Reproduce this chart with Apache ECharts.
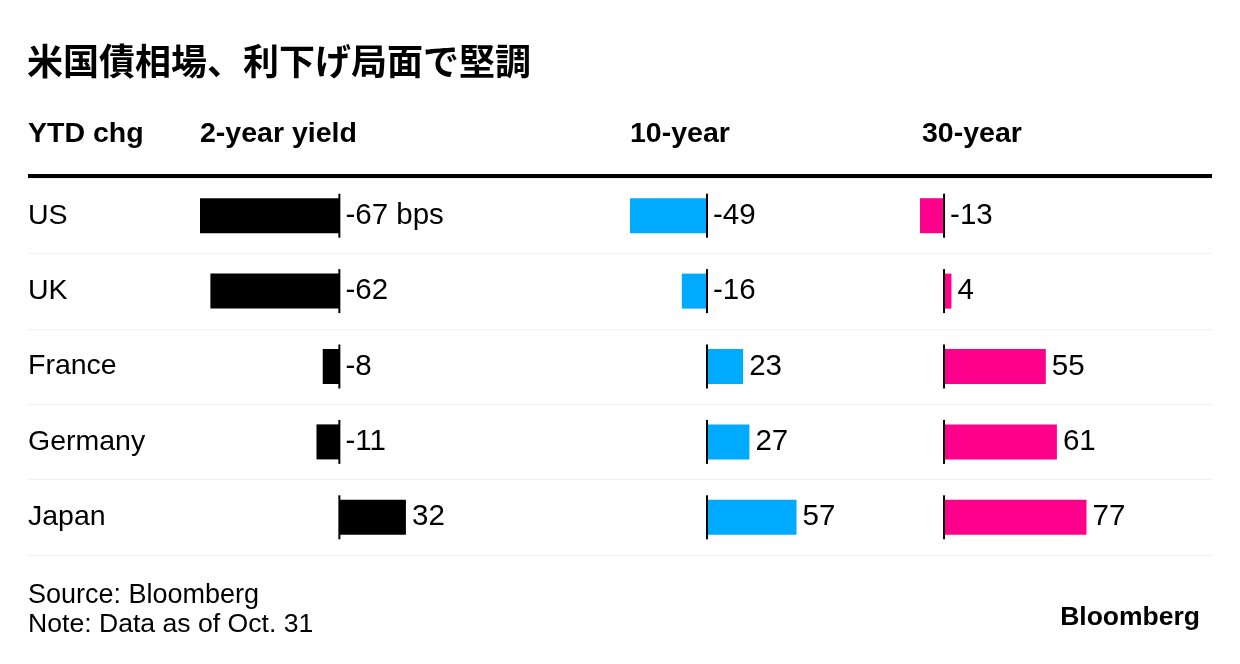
<!DOCTYPE html>
<html>
<head>
<meta charset="utf-8">
<script src="https://cdn.jsdelivr.net/npm/echarts@6/dist/echarts.min.js"></script>
<style>
html,body{margin:0;padding:0;background:#fff;}
#chart{width:1240px;height:664px;}
</style>
</head>
<body>
<div id="chart"></div>
<script>
// ---- data ----
const titleText = '米国債相場、利下げ局面で堅調';
const rowHeader = 'YTD chg';
const countries = ['US', 'UK', 'France', 'Germany', 'Japan'];
const columnTitles = ['2-year yield', '10-year', '30-year'];
const twoYear = [-67, -62, -8, -11, 32];
const tenYear = [-49, -16, 23, 27, 57];
const thirtyYear = [-13, 4, 55, 61, 77];
const unitSuffix = ' bps';
const sourceText = 'Source: Bloomberg';
const noteText = 'Note: Data as of Oct. 31';
const brandText = 'Bloomberg';

// ---- layout / style ----
const FONT = '"Liberation Sans", Arial, sans-serif';
const CJK = '"Noto Sans CJK JP", sans-serif';
const colLeft = [200, 630, 920];
const colScale = [2.08, 1.571, 1.85];
const colColor = ['#000000', '#00aaff', '#ff008c'];
const gridTop = 178, gridHeight = 377;
const columns = [twoYear, tenYear, thirtyYear];

const grids = [{left: 28, top: gridTop, width: 1184, height: gridHeight}];
const xAxes = [{gridIndex: 0, type: 'value', min: 0, max: 1, show: false}];
const yAxes = [{
  gridIndex: 0, type: 'category', data: countries, inverse: true,
  axisLine: {show: false}, axisTick: {show: false},
  axisLabel: {inside: true, margin: 0, color: '#000', fontSize: 28.5, fontFamily: FONT, padding: [0, 0, 7, 0]},
  splitLine: {show: true, lineStyle: {color: '#f0f0f0', width: 1}}
}];
const series = [];

columns.forEach((vals, i) => {
  const gi = i + 1;
  const mn = Math.min(0, ...vals), mx = Math.max(0, ...vals);
  grids.push({left: colLeft[i], top: gridTop, width: (mx - mn) * colScale[i], height: gridHeight});
  xAxes.push({gridIndex: gi, type: 'value', min: mn, max: mx, show: false});
  yAxes.push({gridIndex: gi, type: 'category', data: countries, inverse: true, show: false});
  series.push({
    type: 'bar', xAxisIndex: gi, yAxisIndex: gi, data: vals, barWidth: 35,
    itemStyle: {color: colColor[i]}, silent: true, z: 2
  });
  series.push({
    type: 'scatter', xAxisIndex: gi, yAxisIndex: gi,
    data: countries.map(c => [0, c]),
    symbol: 'rect', symbolSize: [2, 44],
    itemStyle: {color: '#000', opacity: 1}, silent: true, z: 3
  });
  series.push({
    type: 'scatter', xAxisIndex: gi, yAxisIndex: gi,
    data: vals.map((v, k) => [Math.max(v, 0), countries[k], v]),
    symbolSize: 0.1, itemStyle: {color: 'rgba(0,0,0,0)', opacity: 1}, silent: true, z: 4,
    label: {
      show: true, position: 'right', distance: 6,
      color: '#000', fontSize: 29.5, fontFamily: FONT,
      formatter: p => String(p.value[2]) + (i === 0 && p.dataIndex === 0 ? unitSuffix : '')
    }
  });
});

const graphics = [
  {type: 'text', x: 27, y: 61, style: {text: titleText, font: 'bold 36px ' + CJK, fill: '#000', verticalAlign: 'middle'}},
  {type: 'text', x: 28, y: 134, style: {text: rowHeader, font: 'bold 28.5px ' + FONT, fill: '#000', verticalAlign: 'middle'}},
  {type: 'rect', shape: {x: 28, y: 174, width: 1184, height: 4}, style: {fill: '#000'}, z: 10},
  {type: 'text', x: 28, y: 596, style: {text: sourceText, font: '27px ' + FONT, fill: '#000', verticalAlign: 'middle'}},
  {type: 'text', x: 28, y: 625, style: {text: noteText, font: '26.6px ' + FONT, fill: '#000', verticalAlign: 'middle'}},
  {type: 'text', x: 1200, y: 618, style: {text: brandText, font: 'bold 26.5px ' + FONT, fill: '#000', align: 'right', verticalAlign: 'middle'}}
];
columnTitles.forEach((t, i) => {
  graphics.push({type: 'text', x: colLeft[i] + (i === 2 ? 2 : 0), y: 134, style: {text: t, font: 'bold 28.5px ' + FONT, fill: '#000', verticalAlign: 'middle'}});
});

const chart = echarts.init(document.getElementById('chart'));
chart.setOption({
  animation: false,
  backgroundColor: '#fff',
  grid: grids,
  xAxis: xAxes,
  yAxis: yAxes,
  series: series,
  graphic: graphics
});
</script>
</body>
</html>
